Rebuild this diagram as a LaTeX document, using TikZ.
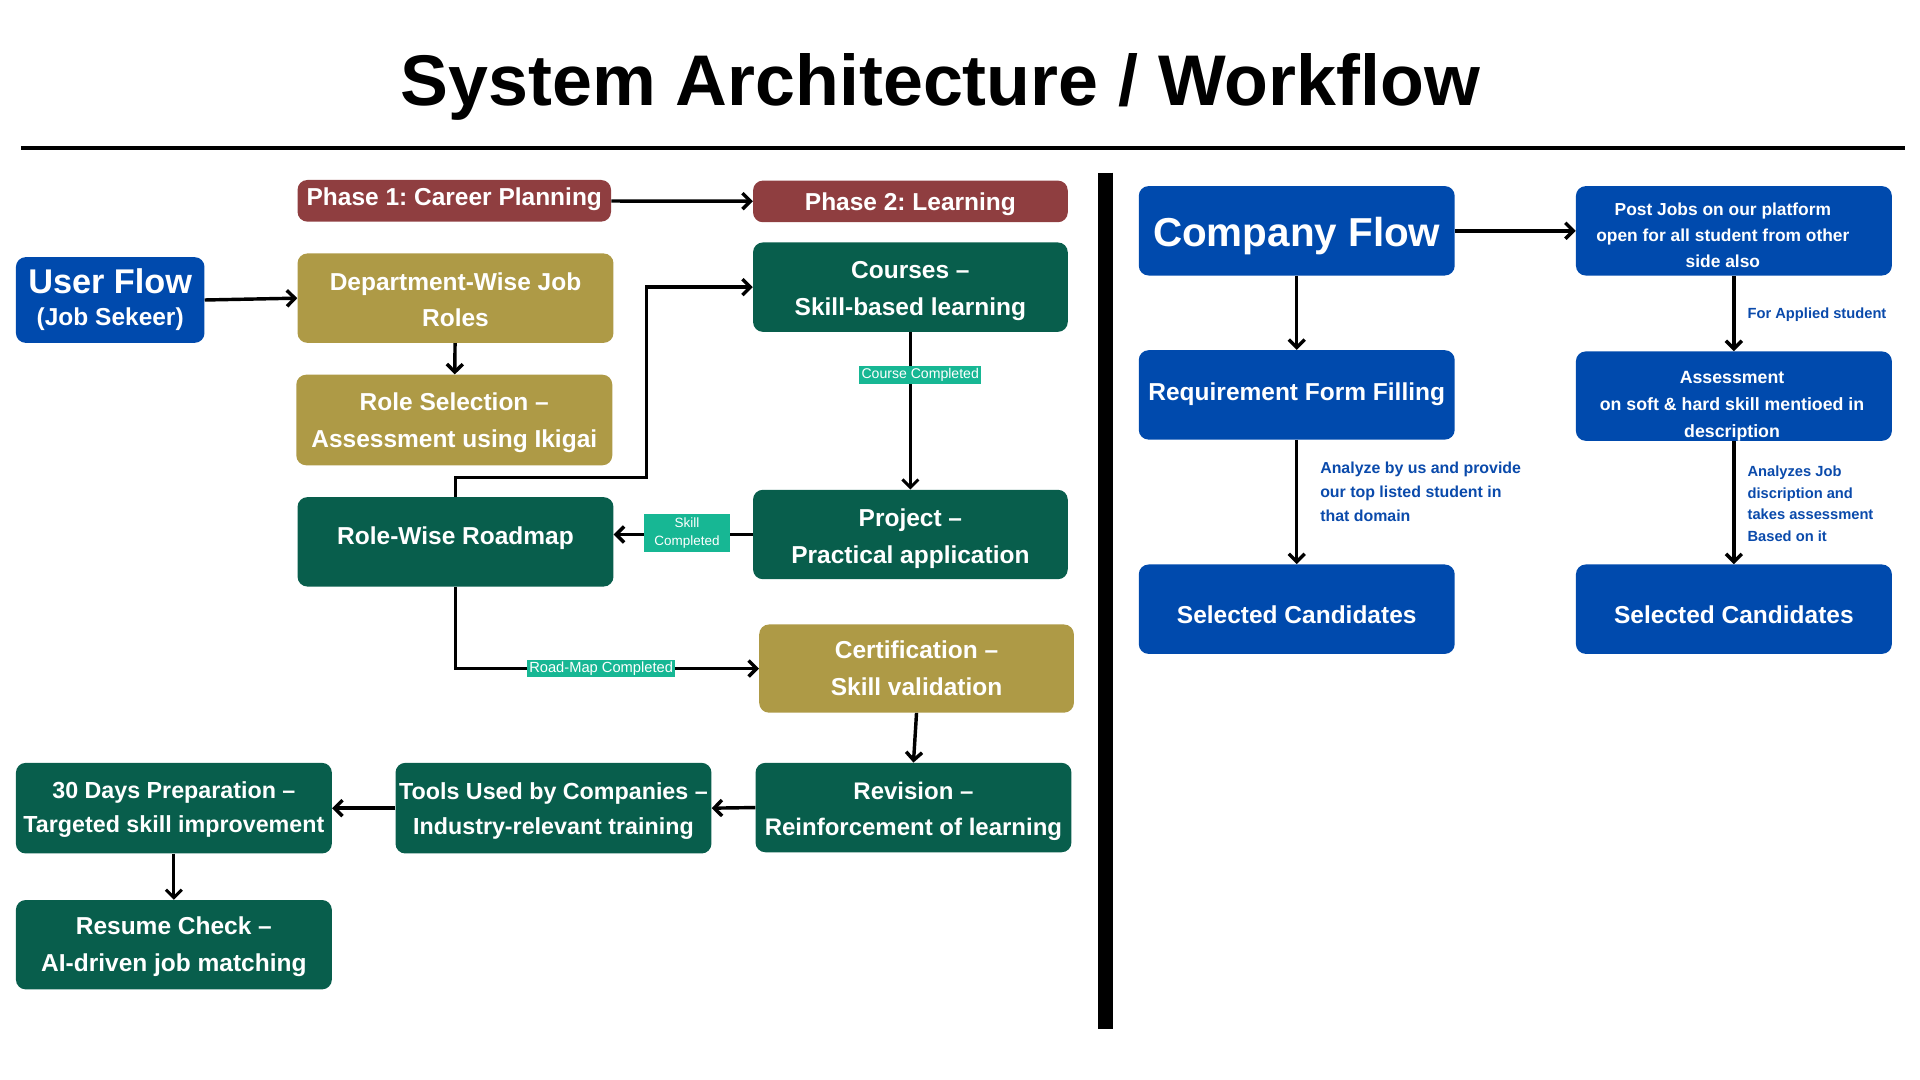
\documentclass[tikz,border=0pt]{standalone}
\usepackage{fontspec}
\setmainfont{Liberation Sans}
\frenchspacing
\usetikzlibrary{arrows.meta}

\definecolor{userblue}{HTML}{004AAD}
\definecolor{roadgreen}{HTML}{085E4C}
\definecolor{olive}{HTML}{AE9A46}
\definecolor{phasered}{HTML}{8F3E40}
\definecolor{tagteal}{HTML}{17B794}
\definecolor{noteblue}{HTML}{0A4AAB}

% lines of a box, pushed down by #1
\newcommand{\boxtext}[2][1pt]{\raisebox{-#1}[\height][\depth]{\begin{tabular}{@{}c@{}}#2\end{tabular}}}

\tikzset{
  box/.style={rounded corners=8pt, minimum width=258pt, minimum height=73pt, inner xsep=1pt, inner ysep=2pt,
    text=white, align=center, font=\bfseries\fontsize{20}{30}\selectfont},
  greenbox/.style={box, fill=roadgreen},
  olivebox/.style={box, fill=olive},
  bluebox/.style={box, fill=userblue},
  phasebox/.style={box, fill=phasered, minimum height=34pt},
  flow/.style={-{Straight Barb[length=6.5pt,width=13pt]}, line width=2.8pt},
  tag/.style={fill=tagteal, text=white, inner sep=2pt, align=center, font=\fontsize{11.5}{15}\selectfont},
  note/.style={text=noteblue, align=left, inner sep=0pt, anchor=north west, font=\bfseries\fontsize{12}{17.5}\selectfont}
}

\begin{document}
\begin{tikzpicture}[x=1pt, y=-1pt]
\useasboundingbox (0,0) rectangle (1568,882);

\node[anchor=base, font=\bfseries\fontsize{58.6}{60}\selectfont] (title) at (768,86) {System Architecture / Workflow};
\draw[line width=3pt] (17,121) -- (1556,121);
\draw[line width=12pt] (903,141) -- (903,840);

% user flow
\node[phasebox, minimum width=256pt] (phaseA) at (371,164) {\boxtext[-2pt]{Phase 1: Career Planning}};
\node[phasebox, minimum width=257pt, minimum height=33pt] (phaseB) at (743.5,164.5) {\boxtext[1.5pt]{Phase 2: Learning}};
\node[bluebox, minimum width=154pt, minimum height=70pt] (user) at (90,245)
  {{\fontsize{28}{30}\selectfont User Flow}\\[-4pt]{\fontsize{20}{24}\selectfont (Job Sekeer)}};
\node[olivebox] (dept) at (372,243.5) {\boxtext[2.5pt]{Department-Wise Job\\Roles}};
\node[olivebox, minimum height=74pt] (rolesel) at (371,343) {\boxtext[1.5pt]{Role Selection --\\Assessment using Ikigai}};
\node[greenbox] (roadmap) at (372,442.5) {\boxtext[-3.5pt]{Role-Wise Roadmap}};
\node[greenbox, minimum width=257pt] (courses) at (743.5,234.5) {\boxtext[2pt]{Courses --\\Skill-based learning}};
\node[greenbox, minimum width=257pt] (project) at (743.5,436.5) {\boxtext[2.5pt]{Project --\\Practical application}};
\node[olivebox, minimum width=257pt, minimum height=72pt] (cert) at (748.5,546) {\boxtext{Certification --\\Skill validation}};
\node[greenbox, font=\bfseries\fontsize{19.6}{29.5}\selectfont] (revision) at (746,659.5) {\boxtext[2pt]{Revision --\\Reinforcement of learning}};
\node[greenbox, minimum height=74pt, font=\bfseries\fontsize{19}{28}\selectfont] (tools) at (452,660) {\boxtext[1.5pt]{Tools Used by Companies --\\Industry-relevant training}};
\node[greenbox, minimum height=74pt, font=\bfseries\fontsize{19}{28}\selectfont] (prep) at (142,660) {\boxtext[0.5pt]{30 Days Preparation --\\Targeted skill improvement}};
\node[greenbox] (resume) at (142,771.5) {\boxtext[0.5pt]{Resume Check --\\AI-driven job matching}};

\coordinate (jog) at (528,390);
\draw[flow] (phaseA) -- (phaseB);
\draw[flow] (user.east) -- (dept.west);
\draw[flow] (dept) -- (rolesel);
\draw[flow] (roadmap.north) |- (jog) |- (courses.west);
\draw[flow, line width=2.4pt] (courses.south) -- node[tag, pos=0.27, xshift=8pt] {Course Completed} (project.north);
\draw[flow] (project.west) -- node[tag, font=\fontsize{11}{15}\selectfont, minimum width=70pt, minimum height=31pt, xshift=3pt, yshift=1pt] {Skill\\Completed} (project.west -| roadmap.east);
\draw[flow] (roadmap.south) |- node[tag, pos=0.74, font=\fontsize{12}{15}\selectfont, inner ysep=1.5pt] {Road-Map Completed} (cert.west);
\draw[flow] (cert.south) -- (revision.north);
\draw[flow] (revision.west) -- (tools.east);
\draw[flow] (tools.west) -- (prep.east);
\draw[flow, line width=2.4pt] (prep.south) -- (resume.north);

% company flow
\node[bluebox, font=\bfseries\fontsize{33}{36}\selectfont] (company) at (1059,188.5) {\boxtext[6pt]{Company Flow}};
\node[bluebox, font=\bfseries\fontsize{14.2}{21}\selectfont] (post) at (1416,188.5) {\boxtext[4.5pt]{Post Jobs on our platform\\open for all student from other\\side also}\hspace{18pt}};
\node[bluebox] (reqform) at (1059,322.5) {\boxtext[-1.5pt]{Requirement Form Filling}};
\node[bluebox, font=\bfseries\fontsize{14.5}{22}\selectfont] (assess) at (1416,323.5) {\boxtext[7pt]{Assessment\\on soft \& hard skill mentioed in\\description}\hspace{3pt}};
\node[bluebox] (selA) at (1059,497.5) {\boxtext[5.5pt]{Selected Candidates}};
\node[bluebox] (selB) at (1416,497.5) {\boxtext[5.5pt]{Selected Candidates}};

\node[note, font=\bfseries\fontsize{13}{19.5}\selectfont] (noteA) at (1078,377) {Analyze by us and provide\\our top listed student in\\that domain};
\node[note] (noteB) at (1427,251) {For Applied student};
\node[note] (noteC) at (1427,380.5) {Analyzes Job\\discription and\\takes assessment\\Based on it};

\draw[flow] (company.east) -- (post.west);
\draw[flow] (company.south) -- (reqform.north);
\draw[flow] (reqform.south) -- (selA.north);
\draw[flow] (post.south) -- (assess.north);
\draw[flow] (assess.south) -- (selB.north);
\end{tikzpicture}
\end{document}
